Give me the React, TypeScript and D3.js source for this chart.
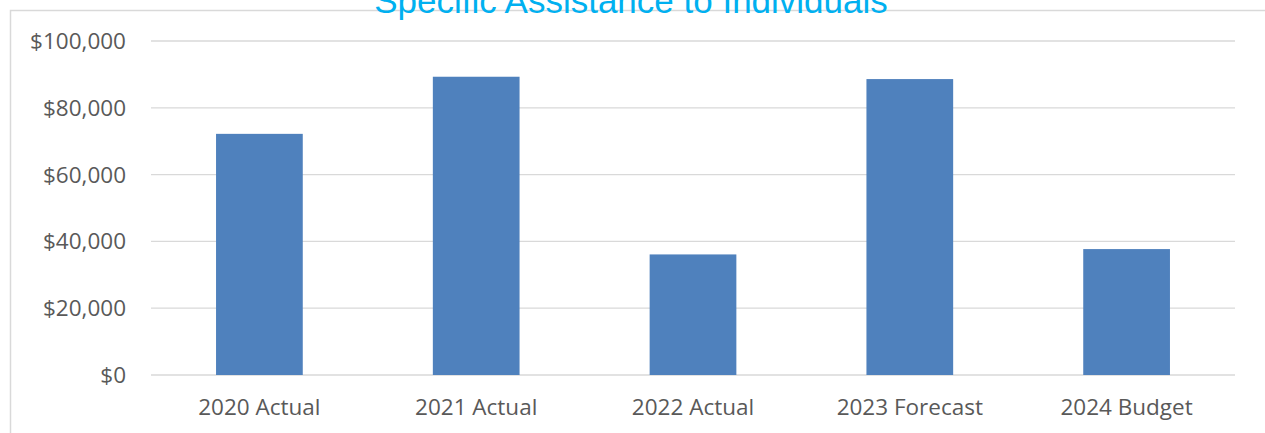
import React from "react";
import * as d3 from "d3";

const categories: string[] = ["2020 Actual", "2021 Actual", "2022 Actual", "2023 Forecast", "2024 Budget"];
const values: number[] = [72200, 89300, 36100, 88600, 37700];
const yTicks: number[] = [0, 20000, 40000, 60000, 80000, 100000];
const title = "Specific Assistance to Individuals";

const W = 1265;
const H = 433;
const plot = { left: 151, right: 1235, top: 41, bottom: 375 };

export default function App() {
  const x = d3
    .scaleBand<string>()
    .domain(categories)
    .range([plot.left, plot.right])
    .paddingInner(0.6)
    .paddingOuter(0.3);
  const y = d3.scaleLinear().domain([0, 100000]).range([plot.bottom, plot.top]);
  const fmt = (v: number) => "$" + d3.format(",")(v);
  const labelFont = "'Open Sans', 'Noto Sans', sans-serif";

  return (
    <svg
      width={W}
      height={H}
      style={{ position: "absolute", left: 0, top: 0, background: "#fff" }}
    >
      <rect x={0} y={0} width={W} height={H} fill="#fff" />
      <rect x={10.5} y={10.5} width={1400} height={600} fill="none" stroke="#D9D9D9" strokeWidth={1.5} />
      {yTicks.map((t) => (
        <g key={t}>
          <line
            x1={plot.left}
            x2={plot.right}
            y1={y(t)}
            y2={y(t)}
            stroke="#D9D9D9"
            strokeWidth={1.3}
          />
          <text
            x={126}
            y={y(t) + 8}
            textAnchor="end"
            fontFamily={labelFont}
            fontSize={22.5}
            fill="#595959"
          >
            {fmt(t)}
          </text>
        </g>
      ))}
      {categories.map((c, i) => (
        <g key={c}>
          <rect
            x={x(c)!}
            y={y(values[i])}
            width={x.bandwidth()}
            height={y(0) - y(values[i])}
            fill="#4F81BD"
          />
          <text
            x={x(c)! + x.bandwidth() / 2}
            y={415}
            textAnchor="middle"
            fontFamily={labelFont}
            fontSize={22.5}
            fill="#595959"
          >
            {c}
          </text>
        </g>
      ))}
      <text
        x={631}
        y={13}
        textAnchor="middle"
        fontFamily="'Liberation Sans', Arial, sans-serif"
        fontSize={35}
        fill="#00B0F0"
      >
        {title}
      </text>
    </svg>
  );
}
